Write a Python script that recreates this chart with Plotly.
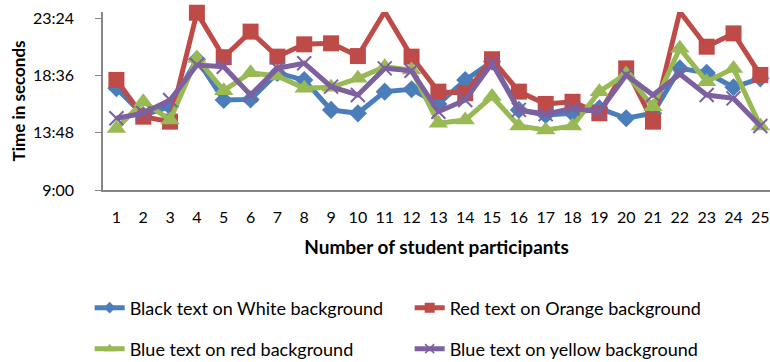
import plotly.graph_objects as go

# Reading times (seconds) of 25 student participants for four colour schemes
participants = list(range(1, 26))

black_on_white = [1052, 917, 959, 1198, 993, 996, 1129, 1093, 943, 926, 1035, 1047, 973,
                  1093, 1186, 943, 917, 926, 951, 901, 926, 1152, 1130, 1057, 1102]
red_on_orange = [1094, 909, 884, 1432, 1208, 1337, 1211, 1273, 1278, 1214, 1437, 1211, 1035,
                 1027, 1198, 1035, 973, 984, 926, 1152, 884, 1437, 1261, 1328, 1119]
blue_on_red = [850, 984, 892, 1203, 1040, 1130, 1114, 1052, 1057, 1102, 1160, 1144, 876,
               892, 1010, 862, 842, 862, 1035, 1124, 959, 1253, 1085, 1152, 862]
blue_on_yellow = [901, 926, 993, 1169, 1160, 1018, 1152, 1178, 1060, 1018, 1152, 1140, 934,
                  993, 1178, 943, 922, 951, 934, 1119, 1018, 1124, 1018, 1001, 862]

series_names = ["Black text on White background", "Red text on Orange background",
                "Blue text on red background", "Blue text on yellow background"]

# y axis ticks (seconds shown as m:ss)
y_tick_values = [540, 828, 1116, 1404]
y_tick_labels = ["9:00", "13:48", "18:36", "23:24"]

FONT = "Lato, Liberation Sans, sans-serif"

styles = [
    dict(color="#4A7EBB", symbol="diamond", size=14, lw=0, legend="legend", key=9),
    dict(color="#BE4B48", symbol="square", size=16, lw=0, legend="legend", key=10),
    dict(color="#98B954", symbol="triangle-up", size=17, lw=0, legend="legend2", key=10),
    dict(color="#7D60A0", symbol="x-thin", size=14, lw=2, legend="legend2", key=9),
]

fig = go.Figure()
for name, values, st in zip(series_names,
                            [black_on_white, red_on_orange, blue_on_red, blue_on_yellow],
                            styles):
    fig.add_trace(go.Scatter(
        x=participants, y=values, name=name, mode="lines+markers",
        line=dict(color=st["color"], width=5),
        marker=dict(symbol=st["symbol"], size=st["size"], color=st["color"],
                    line=dict(color=st["color"], width=st["lw"])),
        cliponaxis=False, showlegend=False, legendgroup=name,
    ))
    # legend key with a smaller marker
    fig.add_trace(go.Scatter(
        x=[None], y=[None], name=name, mode="lines+markers",
        line=dict(color=st["color"], width=5),
        marker=dict(symbol=st["symbol"], size=st["key"], color=st["color"],
                    line=dict(color=st["color"], width=min(st["lw"], 1.5))),
        legend=st["legend"], legendgroup=name, hoverinfo="skip",
    ))

legend_common = dict(orientation="h", xanchor="left", yanchor="middle",
                     font=dict(family=FONT, size=18, color="#000000"),
                     entrywidth=275, entrywidthmode="pixels",
                     bgcolor="rgba(0,0,0,0)", itemclick=False, itemdoubleclick=False)

fig.update_layout(
    width=770, height=362,
    margin=dict(l=103, r=0, t=12, b=172, autoexpand=False),
    plot_bgcolor="white", paper_bgcolor="white",
    font=dict(family=FONT, size=16, color="#000000"),
    showlegend=True,
    legend=dict(x=-0.02, y=-0.663, **legend_common),
    legend2=dict(x=-0.02, y=-0.893, **legend_common),
    xaxis=dict(
        range=[0.5, 25.36], tickmode="array", tickvals=participants,
        ticktext=[str(p) for p in participants],
        showgrid=False, zeroline=False, showline=True, linecolor="#868686", linewidth=2,
        ticks="", ticklabelstandoff=12,
        tickfont=dict(family=FONT, size=16),
        title=dict(text="<b>Number of student participants</b>", standoff=15,
                   font=dict(family=FONT, size=19)),
    ),
    yaxis=dict(
        range=[540, 1435.7], tickmode="array", tickvals=y_tick_values, ticktext=y_tick_labels,
        showgrid=False, zeroline=False, showline=True, linecolor="#868686", linewidth=1.5,
        ticks="outside", ticklen=6, tickcolor="#868686", ticklabelstandoff=18,
        tickfont=dict(family=FONT, size=16),
        title=dict(text="<b>Time in seconds</b>", standoff=3,
                   font=dict(family=FONT, size=17)),
    ),
)

fig.write_html("out.html")
